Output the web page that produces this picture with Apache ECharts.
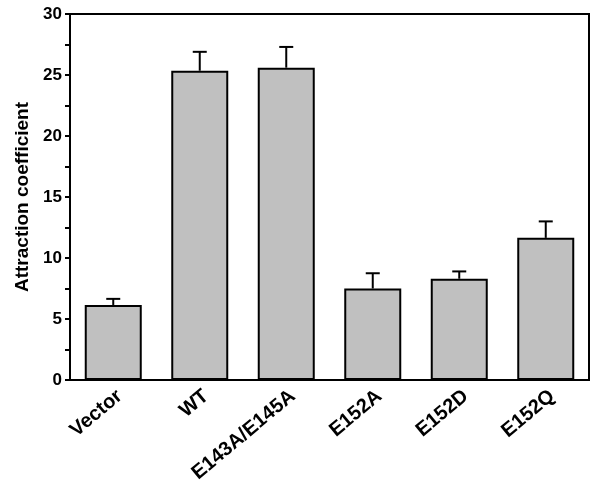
<!DOCTYPE html>
<html>
<head>
<meta charset="utf-8">
<script src="https://cdn.jsdelivr.net/npm/echarts@6/dist/echarts.min.js"></script>
<style>
html, body { margin: 0; padding: 0; background: #fff; }
#chart { width: 601px; height: 491px; }
</style>
</head>
<body>
<div id="chart"></div>
<script>
var categories = ['Vector', 'WT', 'E143A/E145A', 'E152A', 'E152D', 'E152Q'];
var means = [6.15, 25.35, 25.6, 7.5, 8.3, 11.65];
var errors = [0.5, 1.55, 1.7, 1.25, 0.6, 1.35];

var font = 'Liberation Sans, Arial, sans-serif';

var chart = echarts.init(document.getElementById('chart'));

var errData = categories.map(function (c, i) {
    return [i, means[i], means[i] + errors[i]];
});

chart.setOption({
    animation: false,
    grid: { left: 70, right: 12, top: 14, bottom: 111, show: true, borderColor: '#000', borderWidth: 2 },
    xAxis: {
        type: 'category',
        data: categories,
        axisLine: { lineStyle: { color: '#000', width: 2 } },
        axisTick: { show: false },
        axisLabel: {
            rotate: 40, color: '#000', fontFamily: font, fontWeight: 'bold', fontSize: 20,
            margin: 6, interval: 0, align: 'right', verticalAlign: 'top'
        }
    },
    yAxis: {
        type: 'value',
        min: 0, max: 30, interval: 5,
        name: 'Attraction coefficient',
        nameLocation: 'middle',
        nameGap: 38,
        nameTextStyle: { color: '#000', fontFamily: font, fontWeight: 'bold', fontSize: 19 },
        axisLine: { show: true, lineStyle: { color: '#000', width: 2 } },
        axisTick: { show: true, inside: false, length: 5, lineStyle: { color: '#000', width: 2 } },
        minorTick: { show: true, splitNumber: 2, length: 5, lineStyle: { color: '#000', width: 2 } },
        splitLine: { show: false },
        axisLabel: { color: '#000', fontFamily: font, fontWeight: 'bold', fontSize: 17, margin: 8 }
    },
    series: [{
        type: 'bar',
        data: means,
        barWidth: 57,
        itemStyle: { color: '#c0c0c0', borderColor: '#000', borderWidth: 2 },
        z: 2
    }, {
        type: 'custom',
        data: errData,
        z: 1,
        renderItem: function (params, api) {
            var base = api.coord([api.value(0), api.value(1)]);
            var top = api.coord([api.value(0), api.value(2)]);
            var half = 7;
            return {
                type: 'group',
                children: [{
                    type: 'line',
                    shape: { x1: base[0], y1: base[1], x2: top[0], y2: top[1] },
                    style: { stroke: '#000', lineWidth: 2 }
                }, {
                    type: 'line',
                    shape: { x1: top[0] - half, y1: top[1], x2: top[0] + half, y2: top[1] },
                    style: { stroke: '#000', lineWidth: 2 }
                }]
            };
        }
    }]
});
</script>
</body>
</html>
